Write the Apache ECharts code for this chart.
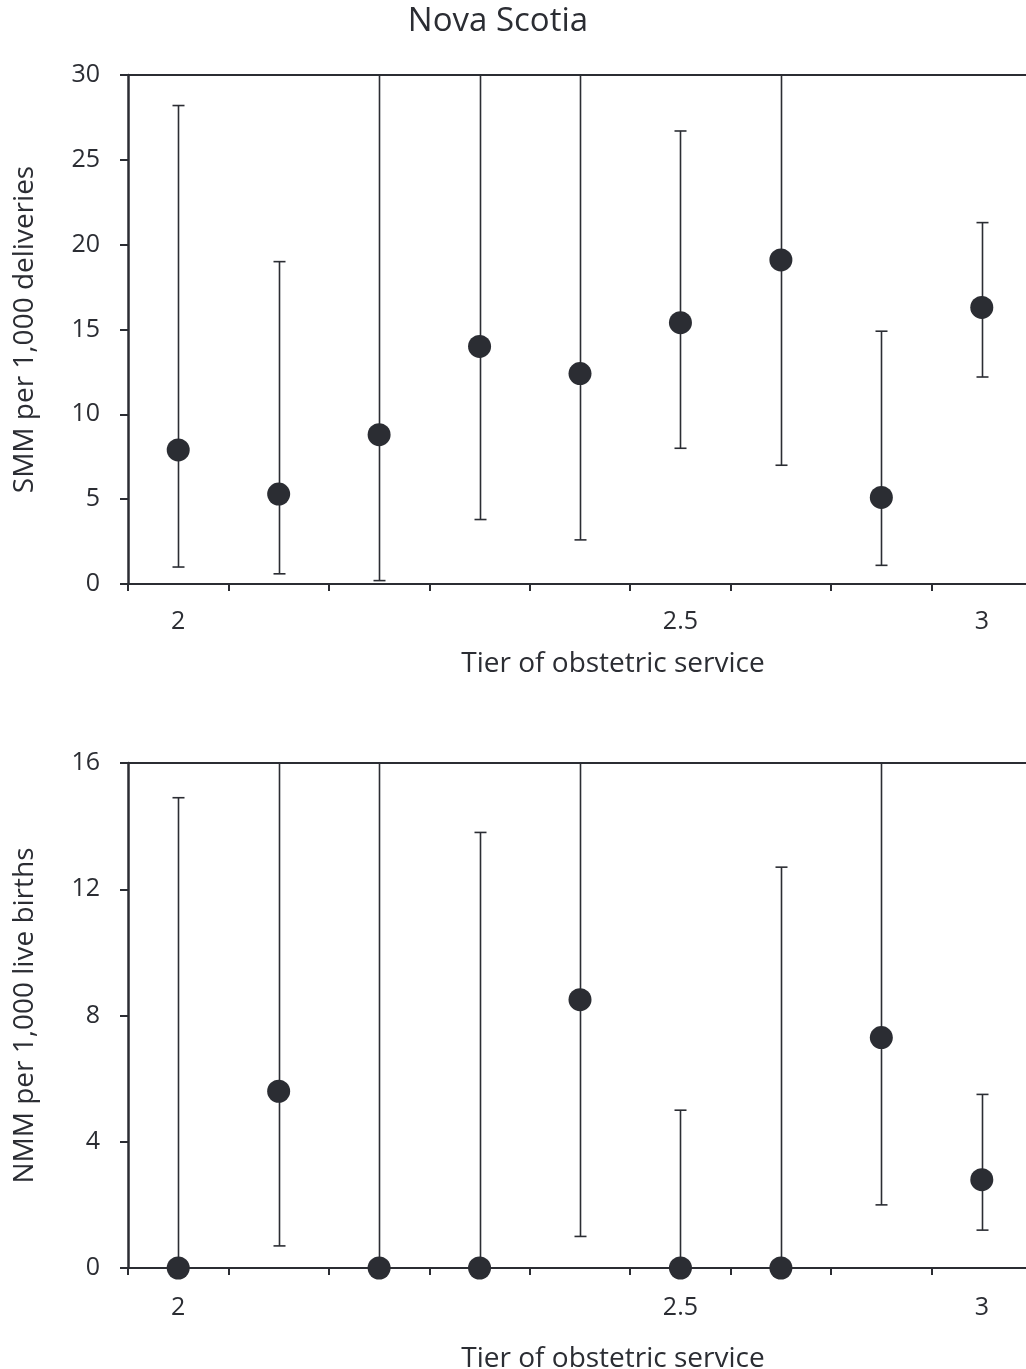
<!DOCTYPE html>
<html>
<head>
<meta charset="utf-8">
<script src="https://cdn.jsdelivr.net/npm/echarts@6/dist/echarts.min.js"></script>
<style>
html,body{margin:0;padding:0;background:#fff;overflow:hidden;}
#chart{width:1026px;height:1369px;}
</style>
</head>
<body>
<div id="chart"></div>
<script>
// ---- data ----
const categories = ['2', '', '', '', '', '2.5', '', '', '3'];
// Top: SMM per 1,000 deliveries
const smmValue = [7.9, 5.3, 8.8, 14.0, 12.4, 15.4, 19.1, 5.1, 16.3];
const smmLow   = [1.0, 0.6, 0.2, 3.8, 2.6, 8.0, 7.0, 1.1, 12.2];
const smmHigh  = [28.2, 19.0, 34, 36, 35, 26.7, 33, 14.9, 21.3]; // values above 30 run off the axis
// Bottom: NMM per 1,000 live births
const nmmValue = [0, 5.6, 0, 0, 8.5, 0, 0, 7.3, 2.8];
const nmmLow   = [0, 0.7, 0, 0, 1.0, 0, 0, 2.0, 1.2];
const nmmHigh  = [14.9, 18, 20, 13.8, 18, 5.0, 12.7, 19, 5.5]; // values above 16 run off the axis
const smmTicks = {min: 0, max: 30, interval: 5};
const nmmTicks = {min: 0, max: 16, interval: 4};

const INK = '#2b2d33';
const FONT = '"Open Sans", "Noto Sans", sans-serif';

function errData(low, high) {
  return low.map((l, i) => [i, l, high[i]]);
}

function renderErr(params, api) {
  const cs = params.coordSys;
  const top = cs.y, bottom = cs.y + cs.height;
  const idx = api.value(0);
  const pLow = api.coord([idx, api.value(1)]);
  const pHigh = api.coord([idx, api.value(2)]);
  const x = Math.round(pLow[0]) + 0.5;
  let y1 = Math.min(bottom, pLow[1]);
  let y2 = Math.max(top, pHigh[1]);
  const style = {stroke: INK, lineWidth: 1.6};
  const children = [{type: 'line', shape: {x1: x, y1: y1, x2: x, y2: y2}, style: style}];
  const cap = 6;
  if (pHigh[1] >= top) children.push({type: 'line', shape: {x1: x - cap, y1: pHigh[1], x2: x + cap, y2: pHigh[1]}, style: style});
  if (pLow[1] <= bottom) children.push({type: 'line', shape: {x1: x - cap, y1: pLow[1], x2: x + cap, y2: pLow[1]}, style: style});
  return {type: 'group', children: children};
}

function xAxes(gi) {
  return [{
    type: 'category', gridIndex: gi, data: categories, position: 'bottom',
    boundaryGap: true,
    axisLine: {show: true, lineStyle: {color: INK, width: 2}},
    axisTick: {show: true, interval: 0, alignWithLabel: false, length: 7, lineStyle: {color: INK, width: 2}},
    axisLabel: {interval: 0, color: INK, fontSize: 25, fontFamily: FONT, margin: gi === 0 ? 25 : 27},
    name: 'Tier of obstetric service', nameLocation: 'middle',
    nameGap: gi === 0 ? 66 : 77,
    nameTextStyle: {color: INK, fontSize: 28, fontFamily: FONT, padding: [0, 0, 0, 66]},
    splitLine: {show: false}
  }, {
    type: 'category', gridIndex: gi, data: categories, position: 'top',
    axisLine: {show: true, lineStyle: {color: INK, width: 2}},
    axisTick: {show: false}, axisLabel: {show: false}, splitLine: {show: false}
  }];
}

function yAxis(gi, t, name) {
  return {
    type: 'value', gridIndex: gi, min: t.min, max: t.max, interval: t.interval,
    axisLine: {show: true, lineStyle: {color: INK, width: 2.5}},
    axisTick: {show: true, inside: false, length: 8, lineStyle: {color: INK, width: 2}},
    axisLabel: {color: INK, fontSize: 25, fontFamily: FONT, margin: 28},
    splitLine: {show: false},
    name: name, nameLocation: 'middle', nameGap: 89, nameRotate: 90,
    nameTextStyle: {color: INK, fontSize: 28, fontFamily: FONT}
  };
}

const chart = echarts.init(document.getElementById('chart'));
chart.setOption({
  animation: false,
  backgroundColor: '#fff',
  title: {
    text: 'Nova Scotia', left: 493, top: 0, textAlign: 'center',
    textStyle: {color: INK, fontSize: 33, fontWeight: 'normal', fontFamily: FONT}
  },
  grid: [
    {left: 128, top: 75, width: 904, height: 509, containLabel: false, outerBoundsMode: 'none'},
    {left: 128, top: 763, width: 904, height: 505, containLabel: false, outerBoundsMode: 'none'}
  ],
  xAxis: xAxes(0).concat(xAxes(1)),
  yAxis: [
    yAxis(0, smmTicks, 'SMM per 1,000 deliveries'),
    yAxis(1, nmmTicks, 'NMM per 1,000 live births')
  ],
  series: [
    {type: 'custom', xAxisIndex: 0, yAxisIndex: 0, data: errData(smmLow, smmHigh), renderItem: renderErr, clip: false, z: 2},
    {type: 'scatter', xAxisIndex: 0, yAxisIndex: 0, data: smmValue, symbol: 'circle', symbolSize: 23, clip: false,
     itemStyle: {color: INK, opacity: 1}, z: 3},
    {type: 'custom', xAxisIndex: 2, yAxisIndex: 1, data: errData(nmmLow, nmmHigh), renderItem: renderErr, clip: false, z: 2},
    {type: 'scatter', xAxisIndex: 2, yAxisIndex: 1, data: nmmValue, symbol: 'circle', symbolSize: 23, clip: false,
     itemStyle: {color: INK, opacity: 1}, z: 3}
  ]
});
</script>
</body>
</html>
